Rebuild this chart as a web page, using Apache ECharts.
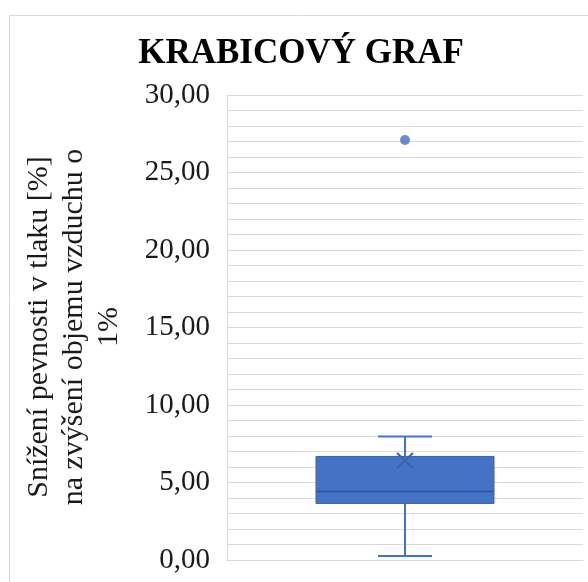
<!DOCTYPE html>
<html>
<head>
<meta charset="utf-8">
<script src="https://cdn.jsdelivr.net/npm/echarts@6/dist/echarts.min.js"></script>
<style>
  html, body { margin: 0; padding: 0; background: #ffffff; }
  #chart { width: 588px; height: 582px; }
</style>
</head>
<body>
<div id="chart"></div>
<script>
// Box plot summary: [min whisker, Q1, median, Q3, max whisker]
const categories = [''];
const boxStats = [0.26, 3.65, 4.42, 6.68, 7.97];
const meanValues = [6.42];
const outliers = [27.1];

const titleText = 'KRABICOVÝ GRAF';
const yAxisTitle = 'Snížení pevnosti v tlaku [%]\nna zvýšení objemu vzduchu o\n1%';

const SERIF = "'Liberation Serif', 'Times New Roman', serif";
const BLUE = '#4472C4';
const DARK_BLUE = '#2F5597';
const GRID = '#d9d9d9';

const chart = echarts.init(document.getElementById('chart'), null, { renderer: 'canvas' });

function renderBox(params, api) {
  const cat = api.value(0);
  const lo = api.coord([cat, api.value(1)]);
  const q1 = api.coord([cat, api.value(2)]);
  const med = api.coord([cat, api.value(3)]);
  const q3 = api.coord([cat, api.value(4)]);
  const hi = api.coord([cat, api.value(5)]);
  const mean = api.coord([cat, api.value(6)]);
  const band = api.size([1, 0])[0];
  const cx = lo[0];
  const boxHalf = band * 0.25;
  const capHalf = band * 0.076;
  const mx = 8, my = 7.5;
  const lineStyle = { stroke: BLUE, lineWidth: 2 };
  return {
    type: 'group',
    children: [
      { type: 'line', shape: { x1: cx, y1: lo[1], x2: cx, y2: q1[1] }, style: lineStyle },
      { type: 'line', shape: { x1: cx, y1: q3[1], x2: cx, y2: hi[1] }, style: lineStyle },
      { type: 'line', shape: { x1: cx - capHalf, y1: lo[1], x2: cx + capHalf, y2: lo[1] }, style: lineStyle },
      { type: 'line', shape: { x1: cx - capHalf, y1: hi[1], x2: cx + capHalf, y2: hi[1] }, style: lineStyle },
      {
        type: 'rect',
        shape: { x: cx - boxHalf, y: q3[1], width: boxHalf * 2, height: q1[1] - q3[1] },
        style: { fill: BLUE, stroke: '#3a63ad', lineWidth: 1 }
      },
      { type: 'line', shape: { x1: cx - boxHalf, y1: med[1], x2: cx + boxHalf, y2: med[1] }, style: { stroke: DARK_BLUE, lineWidth: 1.5 } },
      { type: 'line', shape: { x1: mean[0] - mx, y1: mean[1] - my, x2: mean[0] + mx, y2: mean[1] + my }, style: { stroke: '#3a63ad', lineWidth: 2 } },
      { type: 'line', shape: { x1: mean[0] - mx, y1: mean[1] + my, x2: mean[0] + mx, y2: mean[1] - my }, style: { stroke: '#3a63ad', lineWidth: 2 } }
    ]
  };
}

const option = {
  backgroundColor: '#ffffff',
  animation: false,
  textStyle: { fontFamily: SERIF },
  title: {
    text: titleText,
    left: 296,
    top: 31,
    textAlign: 'center',
    textStyle: {
      fontFamily: SERIF,
      fontWeight: 'bold',
      fontSize: 35,
      color: '#000000'
    }
  },
  graphic: [
    {
      type: 'rect',
      silent: true,
      z: -10,
      shape: { x: 9.5, y: 15.5, width: 700, height: 700 },
      style: { fill: 'none', stroke: GRID, lineWidth: 1 }
    },
    {
      // vertical axis title, reading bottom to top
      type: 'text',
      silent: true,
      x: 74,
      y: 327,
      rotation: Math.PI / 2,
      style: {
        text: yAxisTitle,
        font: '30px ' + SERIF,
        lineHeight: 35,
        fill: '#1a1a1a',
        align: 'center',
        verticalAlign: 'middle'
      }
    }
  ],
  grid: { left: 227, right: 5, top: 95, bottom: 22, containLabel: false },
  xAxis: {
    type: 'category',
    data: categories,
    axisLine: { show: true, lineStyle: { color: GRID, width: 1 } },
    axisTick: { show: false },
    axisLabel: { show: false },
    splitLine: { show: false }
  },
  yAxis: {
    type: 'value',
    min: 0,
    max: 30,
    interval: 5,
    axisLine: { show: true, lineStyle: { color: GRID, width: 1 } },
    axisTick: { show: false },
    axisLabel: {
      margin: 17,
      fontFamily: SERIF,
      fontSize: 29,
      color: '#1a1a1a',
      padding: [5, 0, 0, 0],
      formatter: v => v.toFixed(2).replace('.', ',')
    },
    splitLine: { show: true, lineStyle: { color: GRID, width: 1 } },
    minorTick: { show: false, splitNumber: 5 },
    minorSplitLine: { show: true, lineStyle: { color: GRID, width: 1 } }
  },
  series: [
    {
      type: 'custom',
      renderItem: renderBox,
      encode: { x: 0, y: [1, 2, 3, 4, 5, 6] },
      data: categories.map((c, i) => [i].concat(boxStats, [meanValues[i]])),
      z: 3
    },
    {
      type: 'scatter',
      symbol: 'circle',
      symbolSize: 10,
      itemStyle: { color: BLUE },
      data: outliers.map(v => [0, v]),
      z: 4
    }
  ]
};

chart.setOption(option);
</script>
</body>
</html>
